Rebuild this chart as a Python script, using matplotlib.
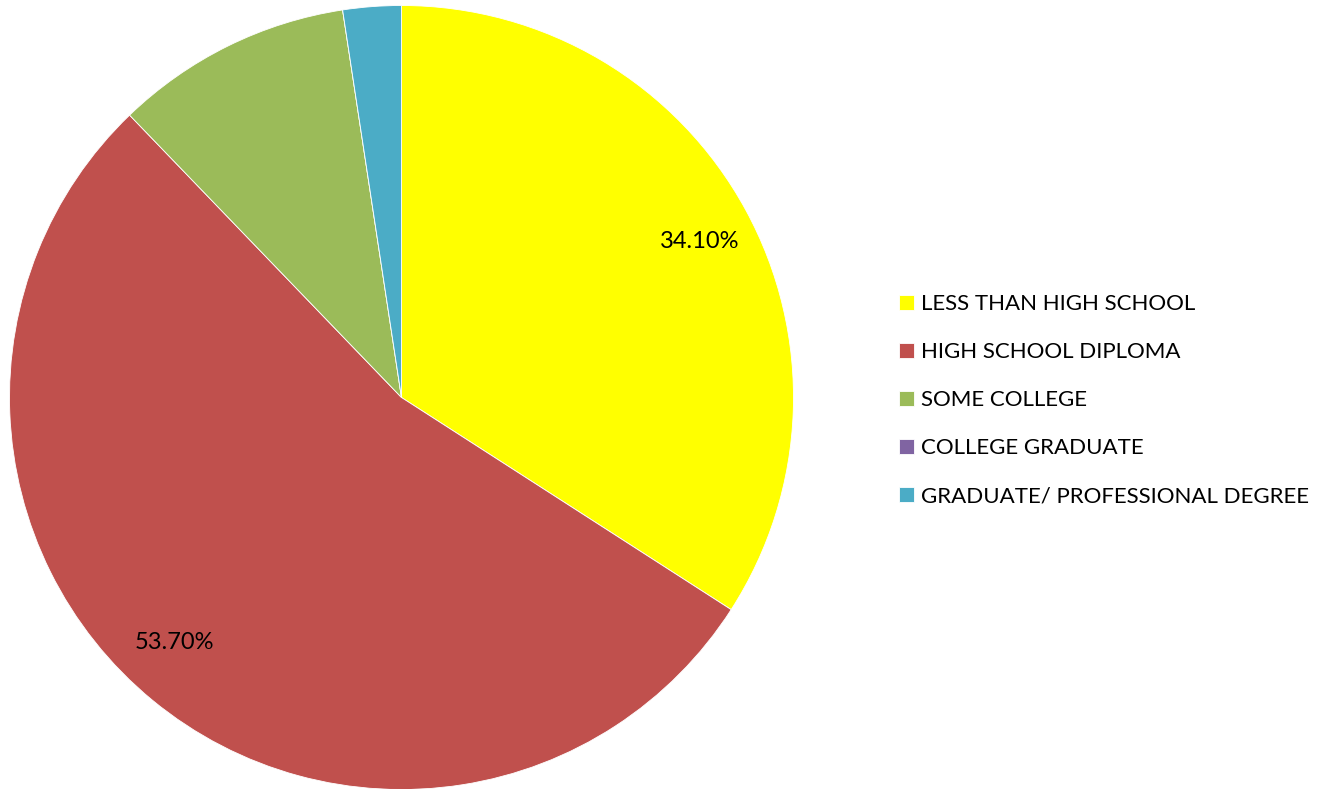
import matplotlib
matplotlib.use("Agg")
import matplotlib.pyplot as plt

categories = ["LESS THAN HIGH SCHOOL", "HIGH SCHOOL DIPLOMA", "SOME COLLEGE",
              "COLLEGE GRADUATE", "GRADUATE/ PROFESSIONAL DEGREE"]
values = [34.1, 53.7, 9.8, 0.0, 2.4]
colors = ["#FFFF00", "#C0504D", "#9BBB59", "#8064A2", "#4BACC6"]

plt.rcParams['font.family'] = ['Lato', 'DejaVu Sans']

W, H = 1323, 789
fig = plt.figure(figsize=(W / 100, H / 100), dpi=100)
cx, cy, r = 401.5, 397.5, 392
ax = fig.add_axes([(cx - r) / W, (H - cy - r) / H, 2 * r / W, 2 * r / H])

shown = [v >= 20 for v in values]
it = iter(shown)
def fmt(p):
    return ('%.2f%%' % p) if next(it) else ''

wedges, texts, autotexts = ax.pie(values, colors=colors, startangle=90, counterclock=False,
                                  autopct=fmt, pctdistance=0.86, radius=1,
                                  wedgeprops=dict(edgecolor='white', linewidth=0.6),
                                  textprops=dict(fontsize=17, color='black'))
# nudge label placement to match the original layout
label_pos = {0: (0.761, 0.399), 1: (-0.580, -0.626)}
for i, (x, y) in label_pos.items():
    autotexts[i].set_position((x, y))

ax.set_xlim(-1, 1)
ax.set_ylim(-1, 1)
ax.set_aspect('equal')
ax.axis('off')

fig.legend(wedges, categories, loc='upper left',
           bbox_to_anchor=(899 / W, 1 - 294 / H), frameon=False,
           fontsize=16, handlelength=0.68, handleheight=0.68, handletextpad=0.32,
           labelspacing=1.26, borderpad=0, borderaxespad=0)

fig.savefig("out.png", dpi=100, facecolor='white')
